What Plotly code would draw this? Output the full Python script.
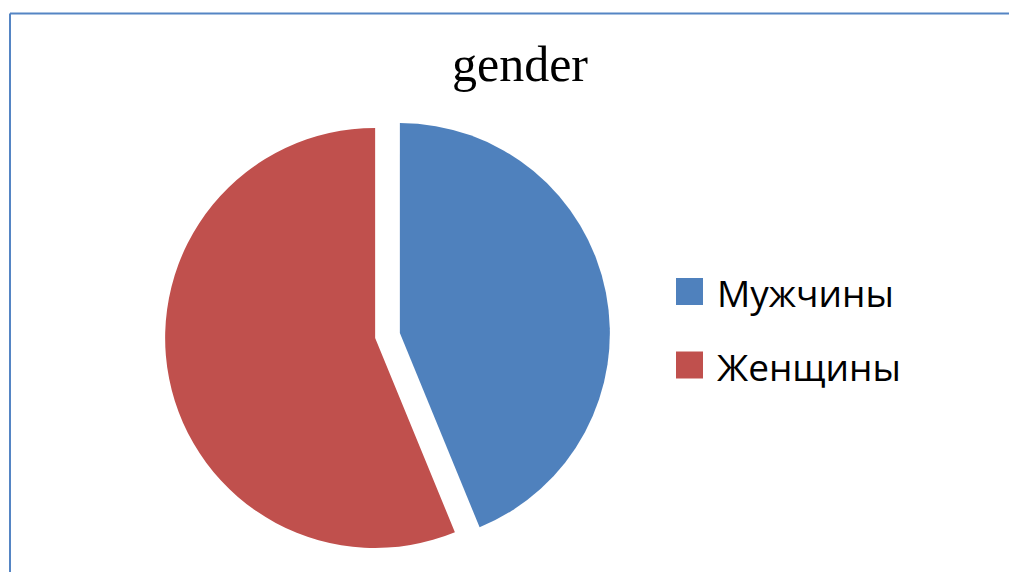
import plotly.graph_objects as go

categories = ["Мужчины", "Женщины"]
values = [43.8, 56.2]
colors = ["#4F81BD", "#C0504D"]
title_text = "gender"

# the page body has an 8px margin; work in page pixels and convert
OFF = 8
W, H = 1017 - OFF, 572 - OFF


def px(x):
    return (x - OFF) / W


def py(y):
    return 1 - (y - OFF) / H


cx, cy0, ext = 387.5, 335.5, 222.6

fig = go.Figure()
fig.add_trace(go.Pie(
    labels=categories,
    values=values,
    marker=dict(colors=colors, line=dict(width=0)),
    sort=False,
    direction="clockwise",
    rotation=0,
    pull=[0.06, 0.06],
    textinfo="none",
    hoverinfo="label+percent",
    showlegend=False,
    domain=dict(x=[px(cx - ext - 5), px(cx + ext + 5)],
                y=[py(cy0 + ext), py(cy0 - ext)]),
))

# custom legend (larger swatches like the original)
shapes = []
annotations = []
leg_x = 676
row_c = [291.5, 365]
for i, cat in enumerate(categories):
    c = row_c[i]
    shapes.append(dict(type="rect", xref="paper", yref="paper",
                       x0=px(leg_x), x1=px(leg_x + 27),
                       y0=py(c + 13.5), y1=py(c - 13.5),
                       fillcolor=colors[i], line=dict(width=0)))
    annotations.append(dict(text=cat, xref="paper", yref="paper",
                            x=px(715), y=py(c + 1),
                            xanchor="left", yanchor="middle", showarrow=False,
                            font=dict(family="Open Sans", size=37, color="#000000")))

# chart-area border (only top and left visible in the crop)
border = "#5585C4"
shapes.append(dict(type="line", xref="paper", yref="paper",
                   x0=px(10), x1=1.01, y0=py(13.5), y1=py(13.5),
                   line=dict(color=border, width=2)))
shapes.append(dict(type="line", xref="paper", yref="paper",
                   x0=px(10), x1=px(10), y0=-0.01, y1=py(13.5),
                   line=dict(color=border, width=2)))

fig.update_layout(
    width=W, height=H,
    margin=dict(l=0, r=0, t=0, b=0),
    paper_bgcolor="white",
    plot_bgcolor="white",
    title=dict(text=title_text, x=px(520), xanchor="center",
               y=py(63), yanchor="middle", yref="container",
               font=dict(family="Liberation Serif", size=50, color="#000000")),
    shapes=shapes,
    annotations=annotations,
)

fig.write_html("out.html")
